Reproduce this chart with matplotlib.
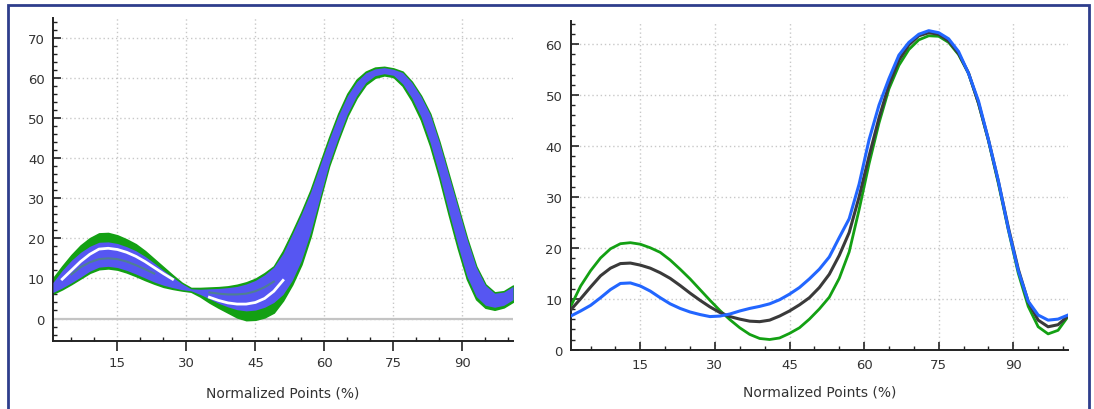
import matplotlib
matplotlib.use("Agg")
import matplotlib.pyplot as plt
from matplotlib.ticker import MultipleLocator, FixedLocator
from matplotlib.patches import Rectangle
import numpy as np

# ---------------- data ----------------
x_pts = list(range(1, 102, 2))  # normalized points (%)

# Right panel: three mean curves
right_green = [8.5, 12.5, 15.5, 18.0, 19.8, 20.8, 21.0, 20.7, 20.0, 19.1,
               17.6, 15.8, 13.9, 11.8, 9.7, 7.7, 5.9, 4.3, 3.0, 2.2,
               2.0, 2.3, 3.2, 4.3, 6.0, 8.0, 10.3, 14.0, 19.2, 27.5,
               36.5, 44.5, 51.2, 55.8, 58.9, 60.8, 61.6, 61.5, 60.3, 57.9,
               54.2, 48.3, 41.0, 32.6, 23.5, 15.0, 8.5, 4.5, 3.1, 3.8, 6.5]
right_black = [7.8, 10.0, 12.3, 14.5, 16.0, 16.9, 17.0, 16.6, 16.0, 15.1,
               14.0, 12.6, 11.1, 9.7, 8.4, 7.3, 6.5, 6.0, 5.6, 5.5,
               5.8, 6.6, 7.6, 8.8, 10.2, 12.2, 14.8, 18.5, 23.0, 30.0,
               38.0, 45.5, 52.0, 56.8, 59.8, 61.6, 62.2, 61.9, 60.6, 58.1,
               54.3, 48.4, 41.2, 33.0, 24.0, 15.8, 9.4, 5.8, 4.5, 4.9, 6.6]
right_blue = [6.6, 7.6, 8.7, 10.2, 11.8, 13.0, 13.1, 12.5, 11.5, 10.2,
              9.0, 8.1, 7.4, 6.9, 6.5, 6.6, 7.0, 7.6, 8.1, 8.5,
              9.0, 9.8, 10.9, 12.2, 13.9, 15.8, 18.2, 22.0, 25.7, 32.5,
              41.2, 48.0, 53.2, 57.8, 60.3, 61.9, 62.6, 62.2, 61.0, 58.5,
              54.2, 48.8, 41.2, 33.1, 23.7, 15.5, 9.5, 6.8, 5.8, 6.0, 6.8]

# Left panel: envelopes of individual trials
left_green_hi = [10.0, 13.0, 15.8, 18.2, 20.0, 21.2, 21.3, 20.7, 19.7, 18.5,
                 16.8, 14.8, 12.8, 10.8, 8.9, 7.6, 7.6, 7.7, 7.8, 8.0,
                 8.4, 9.0, 9.9, 11.3, 13.0, 16.8, 21.5, 26.5, 32.0, 38.5,
                 45.0, 51.0, 56.0, 59.5, 61.5, 62.5, 62.7, 62.3, 61.5, 59.0,
                 55.5, 51.0, 44.0, 36.0, 28.0, 20.0, 13.0, 8.5, 6.5, 6.8, 8.2]
left_green_lo = [6.2, 7.3, 8.6, 10.0, 11.4, 12.3, 12.5, 12.2, 11.5, 10.6,
                 9.6, 8.7, 7.9, 7.4, 7.0, 6.7, 5.5, 4.0, 2.7, 1.5,
                 0.3, -0.4, -0.3, 0.3, 1.5, 4.5, 8.5, 13.5, 20.5, 29.5,
                 38.0, 44.5, 50.5, 55.0, 58.3, 60.0, 60.6, 60.2, 58.0, 54.3,
                 49.5, 43.0, 35.0, 26.0, 17.5, 9.8, 4.8, 2.7, 2.2, 2.8, 4.2]
left_blue_hi = [9.0, 12.0, 14.5, 16.5, 18.0, 19.0, 19.1, 18.7, 17.9, 16.9,
                15.5, 13.8, 12.0, 10.3, 8.7, 7.4, 7.3, 7.4, 7.5, 7.7,
                8.0, 8.6, 9.5, 10.9, 12.8, 16.2, 21.0, 26.0, 31.5, 38.0,
                44.5, 50.5, 55.5, 59.0, 61.2, 62.2, 62.5, 62.1, 61.3, 58.8,
                55.3, 50.8, 43.8, 35.8, 27.8, 19.8, 12.8, 8.3, 6.3, 6.6, 8.0]
left_blue_lo = [6.5, 7.6, 8.9, 10.3, 11.8, 12.8, 13.0, 12.7, 12.0, 11.1,
                10.1, 9.1, 8.3, 7.7, 7.2, 6.9, 6.0, 4.9, 3.8, 2.9,
                2.2, 1.9, 2.1, 2.8, 4.0, 6.0, 9.5, 14.5, 21.5, 30.0,
                38.5, 45.0, 51.0, 55.5, 58.8, 60.5, 61.0, 60.6, 58.5, 55.0,
                50.3, 43.8, 35.8, 26.8, 18.3, 10.5, 5.5, 3.3, 2.8, 3.3, 4.7]
N = None
left_white = [N, 9.8, 12.0, 14.2, 16.0, 17.3, 17.5, 17.2, 16.5, 15.5,
              14.2, 12.7, 11.2, 9.8, N, N, N, 5.3, 4.5, 3.9,
              3.6, 3.6, 4.0, 5.0, 6.8, 9.5, N, N, N, N,
              N, N, N, N, N, N, N, N, N, N,
              N, N, N, N, N, N, N, N, N, N, N]
left_teal = [N, N, 11.0, 12.8, 14.0, 14.8, 15.0, 14.8, 14.2, 13.3,
             12.3, 11.2, N, N, N, N, N, 6.5, 6.2, 6.0,
             6.0, 6.2, 6.8, 7.8, 9.2, N, N, N, N, N,
             N, N, N, N, N, N, N, N, N, N,
             N, N, N, N, N, N, N, N, N, N, N]

x_major = [15, 30, 45, 60, 75, 90]
left_yticks = [0, 10, 20, 30, 40, 50, 60, 70]
right_yticks = [0, 10, 20, 30, 40, 50, 60]
xlabel = "Normalized Points (%)"

# ---------------- styling ----------------
GREEN = "#13a013"
BAND_BLUE = "#5656f2"
RIGHT_BLUE = "#2266ff"
BLACK = "#3a3a3a"
WHITE = "#ffffff"
TEAL = "#4f7f93"
GRID = "#c8c8c8"
FRAME = "#2e3d8c"

W, H = 1094, 410
fig = plt.figure(figsize=(W / 100, H / 100), dpi=100)
fig.patch.set_facecolor("white")


def ax_rect(l, t, r, b):
    return [l / W, 1 - b / H, (r - l) / W, (b - t) / H]


def style_axes(ax, yticks):
    for s in ("top", "right"):
        ax.spines[s].set_visible(False)
    for s in ("left", "bottom"):
        ax.spines[s].set_color("#222222")
        ax.spines[s].set_linewidth(1.4)
    ax.xaxis.set_major_locator(FixedLocator(x_major))
    ax.xaxis.set_minor_locator(MultipleLocator(5))
    ax.yaxis.set_major_locator(FixedLocator(yticks))
    ax.yaxis.set_minor_locator(MultipleLocator(2))
    ax.tick_params(which="major", direction="in", length=6, width=1.2,
                   color="#222222", labelsize=9.5, labelcolor="#333333", pad=6)
    ax.tick_params(which="minor", direction="in", length=3, width=1.0,
                   color="#222222")
    ax.grid(True, which="major", linestyle=(0, (1, 2)), color=GRID, linewidth=1.0)
    ax.set_axisbelow(True)


xs = np.array(x_pts, dtype=float)


def arr(v):
    return np.array([np.nan if a is None else a for a in v], dtype=float)


# Left panel
axL = fig.add_axes(ax_rect(53, 18.5, 513, 342))
style_axes(axL, left_yticks)
axL.tick_params(axis="x", which="major", direction="out", length=7, pad=4)
axL.set_xlabel(xlabel, fontsize=10, color="#333333", labelpad=12)
axL.set_xlim(1, 101)
axL.set_ylim(-5.6, 75)
axL.axhline(0, color="#c4c4c4", linewidth=1.6, zorder=1)
axL.fill_between(xs, arr(left_green_lo), arr(left_green_hi), color=GREEN,
                 linewidth=1.2, edgecolor=GREEN, zorder=2)
axL.fill_between(xs, arr(left_blue_lo), arr(left_blue_hi), color=BAND_BLUE,
                 linewidth=0, zorder=3)
axL.plot(xs, arr(left_teal), color=TEAL, linewidth=1.5, zorder=4)
axL.plot(xs, arr(left_white), color=WHITE, linewidth=2.0, zorder=5)

# Right panel
axR = fig.add_axes(ax_rect(570.7, 22, 1068, 350.7))
style_axes(axR, right_yticks)
axR.set_xlabel(xlabel, fontsize=10, color="#333333", labelpad=10)
axR.set_xlim(1, 101)
axR.set_ylim(0, 64.5)
axR.plot(xs, arr(right_green), color=GREEN, linewidth=2.0, zorder=3)
axR.plot(xs, arr(right_black), color=BLACK, linewidth=2.2, zorder=4)
axR.plot(xs, arr(right_blue), color=RIGHT_BLUE, linewidth=2.2, zorder=5)

# outer frame
fig.patches.append(Rectangle((8 / W, -0.05), (1089 - 8) / W, 1.05 - 6 / H,
                             transform=fig.transFigure, fill=False,
                             edgecolor=FRAME, linewidth=2.0))

fig.savefig("out.png", dpi=100)
